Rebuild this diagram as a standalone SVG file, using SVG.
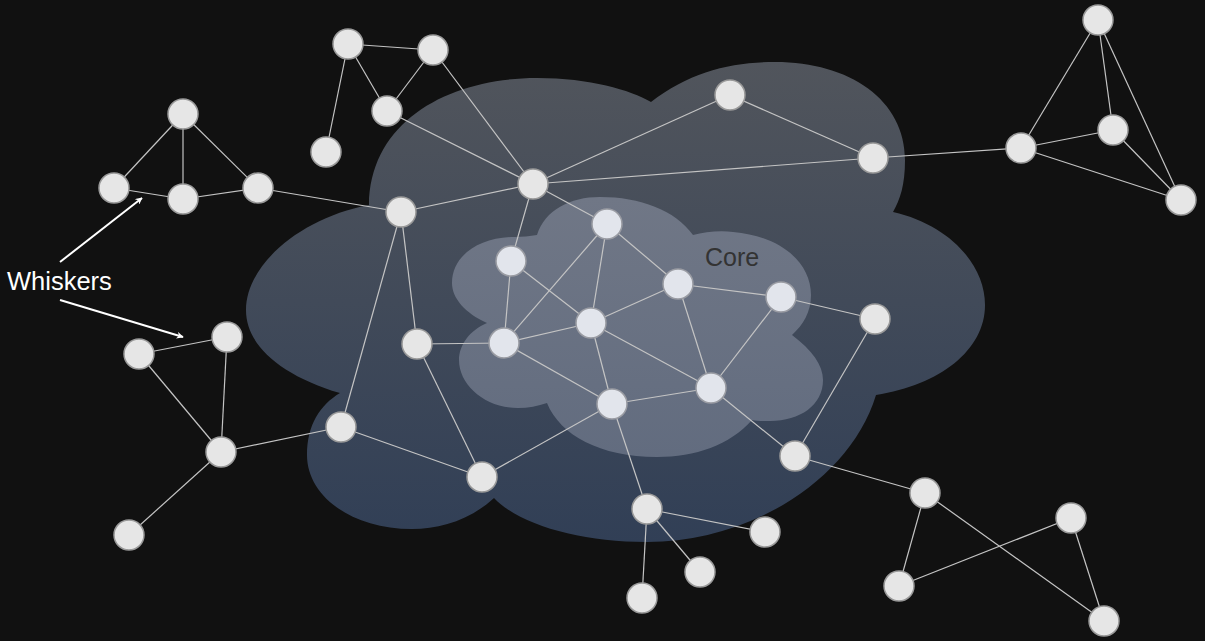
<svg xmlns="http://www.w3.org/2000/svg" width="1205" height="641" viewBox="0 0 1205 641">
<defs>
<linearGradient id="gOuter" x1="0" y1="0" x2="0" y2="1">
<stop offset="0" stop-color="#51555c"/>
<stop offset="1" stop-color="#313f56"/>
</linearGradient>
<linearGradient id="gCore" x1="0" y1="0" x2="0" y2="1">
<stop offset="0" stop-color="#707786"/>
<stop offset="1" stop-color="#626c7f"/>
</linearGradient>
<marker id="arr" viewBox="0 0 10 10" refX="9" refY="5" markerWidth="7" markerHeight="7" orient="auto" markerUnits="userSpaceOnUse">
<path d="M0,0 L10,5 L0,10 L3,5 z" fill="#ffffff"/>
</marker>
<style>
.e{stroke:#c4c4c4;stroke-width:1.2;fill:none}
.n{fill:#e6e6e6;stroke:#999999;stroke-width:1.5}
.c{fill:#e2e5ec;stroke:#9a9ca3;stroke-width:1.5}
.lbl{font-family:"Liberation Sans",Arial,sans-serif;font-size:25px}
.wh{font-size:25.5px}
.arrow{stroke:#ffffff;stroke-width:2;fill:none}
</style>
</defs>
<rect x="0" y="0" width="1205" height="641" fill="#111111"/>
<g id="clouds">
<path id="outer-cloud" fill="url(#gOuter)" d="M369,205 C370,120 450,78 537,78 C590,78 630,90 651,102 C690,72 730,62 775,62 C850,62 905,100 905,160 C905,185 900,200 893,212 C950,225 985,265 985,305 C985,350 940,385 876,395 C850,480 750,542 647,542 C580,542 520,525 494,498 C470,520 440,529 412,529 C350,529 307,495 307,455 C307,425 320,405 340,393 C280,375 246,345 246,310 C246,265 300,218 369,205 Z"/>
<path id="core-cloud" fill="url(#gCore)" d="M537,235 C545,210 570,197 600,197 C640,197 675,210 693,235 C705,232 720,230 733,232 C780,236 811,262 811,295 C811,312 803,325 792,335 C812,350 823,365 823,380 C823,405 800,421 770,421 C763,421 757,421 752,420 C730,445 695,457 657,457 C600,457 560,435 547,403 C538,406 528,408 518,408 C485,408 459,385 459,360 C459,345 470,330 487,323 C465,313 452,298 452,283 C452,255 480,237 515,237 C522,237 530,236 537,235 Z"/>
<text class="lbl" x="705" y="266" fill="#333333">Core</text>
</g>
<g id="connectors">
<line class="e" x1="348" y1="44" x2="433" y2="50"/>
<line class="e" x1="348" y1="44" x2="387" y2="111"/>
<line class="e" x1="348" y1="44" x2="326" y2="152"/>
<line class="e" x1="433" y1="50" x2="387" y2="111"/>
<line class="e" x1="433" y1="50" x2="533" y2="184"/>
<line class="e" x1="387" y1="111" x2="533" y2="184"/>
<line class="e" x1="183" y1="114" x2="114" y2="188"/>
<line class="e" x1="183" y1="114" x2="183" y2="199"/>
<line class="e" x1="183" y1="114" x2="258" y2="188"/>
<line class="e" x1="114" y1="188" x2="183" y2="199"/>
<line class="e" x1="183" y1="199" x2="258" y2="188"/>
<line class="e" x1="258" y1="188" x2="401" y2="212"/>
<line class="e" x1="401" y1="212" x2="533" y2="184"/>
<line class="e" x1="401" y1="212" x2="417" y2="344"/>
<line class="e" x1="401" y1="212" x2="341" y2="427"/>
<line class="e" x1="533" y1="184" x2="730" y2="95"/>
<line class="e" x1="533" y1="184" x2="873" y2="158"/>
<line class="e" x1="533" y1="184" x2="607" y2="224"/>
<line class="e" x1="533" y1="184" x2="511" y2="261"/>
<line class="e" x1="730" y1="95" x2="873" y2="158"/>
<line class="e" x1="873" y1="158" x2="1021" y2="148"/>
<line class="e" x1="1021" y1="148" x2="1098" y2="20"/>
<line class="e" x1="1021" y1="148" x2="1113" y2="130"/>
<line class="e" x1="1021" y1="148" x2="1181" y2="200"/>
<line class="e" x1="1098" y1="20" x2="1113" y2="130"/>
<line class="e" x1="1098" y1="20" x2="1181" y2="200"/>
<line class="e" x1="1113" y1="130" x2="1181" y2="200"/>
<line class="e" x1="607" y1="224" x2="678" y2="284"/>
<line class="e" x1="607" y1="224" x2="591" y2="323"/>
<line class="e" x1="607" y1="224" x2="504" y2="343"/>
<line class="e" x1="511" y1="261" x2="591" y2="323"/>
<line class="e" x1="511" y1="261" x2="504" y2="343"/>
<line class="e" x1="678" y1="284" x2="591" y2="323"/>
<line class="e" x1="678" y1="284" x2="781" y2="297"/>
<line class="e" x1="678" y1="284" x2="711" y2="388"/>
<line class="e" x1="781" y1="297" x2="875" y2="319"/>
<line class="e" x1="781" y1="297" x2="711" y2="388"/>
<line class="e" x1="875" y1="319" x2="795" y2="456"/>
<line class="e" x1="591" y1="323" x2="504" y2="343"/>
<line class="e" x1="591" y1="323" x2="711" y2="388"/>
<line class="e" x1="591" y1="323" x2="612" y2="404"/>
<line class="e" x1="504" y1="343" x2="417" y2="344"/>
<line class="e" x1="504" y1="343" x2="612" y2="404"/>
<line class="e" x1="417" y1="344" x2="482" y2="477"/>
<line class="e" x1="711" y1="388" x2="612" y2="404"/>
<line class="e" x1="711" y1="388" x2="795" y2="456"/>
<line class="e" x1="612" y1="404" x2="482" y2="477"/>
<line class="e" x1="612" y1="404" x2="647" y2="509"/>
<line class="e" x1="341" y1="427" x2="482" y2="477"/>
<line class="e" x1="341" y1="427" x2="221" y2="452"/>
<line class="e" x1="227" y1="337" x2="139" y2="354"/>
<line class="e" x1="227" y1="337" x2="221" y2="452"/>
<line class="e" x1="139" y1="354" x2="221" y2="452"/>
<line class="e" x1="221" y1="452" x2="129" y2="535"/>
<line class="e" x1="647" y1="509" x2="765" y2="532"/>
<line class="e" x1="647" y1="509" x2="700" y2="572"/>
<line class="e" x1="647" y1="509" x2="642" y2="598"/>
<line class="e" x1="795" y1="456" x2="925" y2="493"/>
<line class="e" x1="925" y1="493" x2="899" y2="586"/>
<line class="e" x1="925" y1="493" x2="1104" y2="621"/>
<line class="e" x1="1071" y1="518" x2="899" y2="586"/>
<line class="e" x1="1071" y1="518" x2="1104" y2="621"/>
<line class="arrow" x1="60" y1="262" x2="142" y2="198" marker-end="url(#arr)"/>
<line class="arrow" x1="60" y1="300" x2="183" y2="337" marker-end="url(#arr)"/>
</g>
<g id="label-whiskers"><text class="lbl wh" x="7" y="290" fill="#ffffff">Whiskers</text></g>
<g id="n1"><circle class="n" cx="348" cy="44" r="15"/></g>
<g id="n2"><circle class="n" cx="433" cy="50" r="15"/></g>
<g id="n3"><circle class="n" cx="387" cy="111" r="15"/></g>
<g id="n4"><circle class="n" cx="326" cy="152" r="15"/></g>
<g id="n5"><circle class="n" cx="183" cy="114" r="15"/></g>
<g id="n6"><circle class="n" cx="114" cy="188" r="15"/></g>
<g id="n7"><circle class="n" cx="183" cy="199" r="15"/></g>
<g id="n8"><circle class="n" cx="258" cy="188" r="15"/></g>
<g id="n9"><circle class="n" cx="401" cy="212" r="15"/></g>
<g id="n10"><circle class="n" cx="533" cy="184" r="15"/></g>
<g id="n11"><circle class="n" cx="730" cy="95" r="15"/></g>
<g id="n12"><circle class="n" cx="873" cy="158" r="15"/></g>
<g id="n13"><circle class="n" cx="1098" cy="20" r="15"/></g>
<g id="n14"><circle class="n" cx="1021" cy="148" r="15"/></g>
<g id="n15"><circle class="n" cx="1113" cy="130" r="15"/></g>
<g id="n16"><circle class="n" cx="1181" cy="200" r="15"/></g>
<g id="n17"><circle class="c" cx="607" cy="224" r="15"/></g>
<g id="n18"><circle class="c" cx="511" cy="261" r="15"/></g>
<g id="n19"><circle class="c" cx="678" cy="284" r="15"/></g>
<g id="n20"><circle class="c" cx="781" cy="297" r="15"/></g>
<g id="n21"><circle class="n" cx="875" cy="319" r="15"/></g>
<g id="n22"><circle class="c" cx="591" cy="323" r="15"/></g>
<g id="n23"><circle class="c" cx="504" cy="343" r="15"/></g>
<g id="n24"><circle class="n" cx="417" cy="344" r="15"/></g>
<g id="n25"><circle class="n" cx="227" cy="337" r="15"/></g>
<g id="n26"><circle class="n" cx="139" cy="354" r="15"/></g>
<g id="n27"><circle class="c" cx="711" cy="388" r="15"/></g>
<g id="n28"><circle class="c" cx="612" cy="404" r="15"/></g>
<g id="n29"><circle class="n" cx="341" cy="427" r="15"/></g>
<g id="n30"><circle class="n" cx="221" cy="452" r="15"/></g>
<g id="n31"><circle class="n" cx="795" cy="456" r="15"/></g>
<g id="n32"><circle class="n" cx="482" cy="477" r="15"/></g>
<g id="n33"><circle class="n" cx="129" cy="535" r="15"/></g>
<g id="n34"><circle class="n" cx="647" cy="509" r="15"/></g>
<g id="n35"><circle class="n" cx="765" cy="532" r="15"/></g>
<g id="n36"><circle class="n" cx="700" cy="572" r="15"/></g>
<g id="n37"><circle class="n" cx="642" cy="598" r="15"/></g>
<g id="n38"><circle class="n" cx="925" cy="493" r="15"/></g>
<g id="n39"><circle class="n" cx="1071" cy="518" r="15"/></g>
<g id="n40"><circle class="n" cx="899" cy="586" r="15"/></g>
<g id="n41"><circle class="n" cx="1104" cy="621" r="15"/></g>
</svg>
